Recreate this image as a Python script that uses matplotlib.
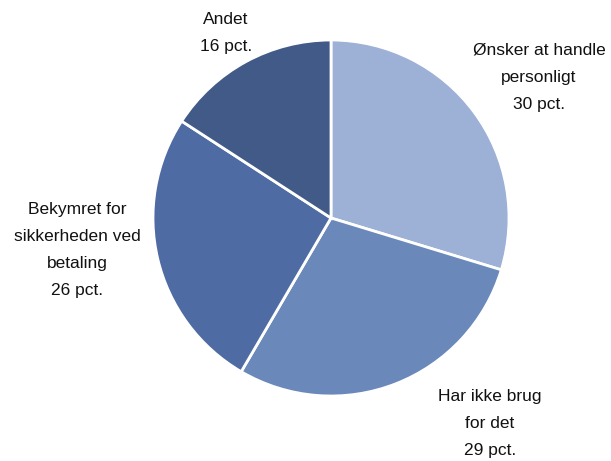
import matplotlib
matplotlib.use("Agg")
import matplotlib.pyplot as plt

labels = ["Ønsker at handle\npersonligt\n30 pct.", "Har ikke brug\nfor det\n29 pct.",
          "Bekymret for\nsikkerheden ved\nbetaling\n26 pct.", "Andet\n16 pct."]
values = [30, 29, 26, 16]
colors = ["#9DB0D6", "#6A88BA", "#4E6BA4", "#415A88"]

W, H = 611, 461
cx, cy, R = 331, 218, 178
fig = plt.figure(figsize=(W / 100, H / 100), dpi=100)
ax = fig.add_axes([0, 0, 1, 1])

ax.pie(values, colors=colors, startangle=90, counterclock=False, radius=1,
       wedgeprops=dict(edgecolor="white", linewidth=2))
ax.set_aspect("auto")
ax.set_xlim(-cx / R, (W - cx) / R)
ax.set_ylim(-(H - cy) / R, cy / R)
ax.axis("off")

label_px = [(539, 77), (490, 423), (77, 250), (226, 33)]
for lab, (px, py) in zip(labels, label_px):
    ax.text((px - cx) / R, (cy - py) / R, lab, ha="center", va="center",
            fontsize=12.5, family="Liberation Sans", linespacing=2.0, color="#111111")

fig.savefig("out.png", dpi=100)
